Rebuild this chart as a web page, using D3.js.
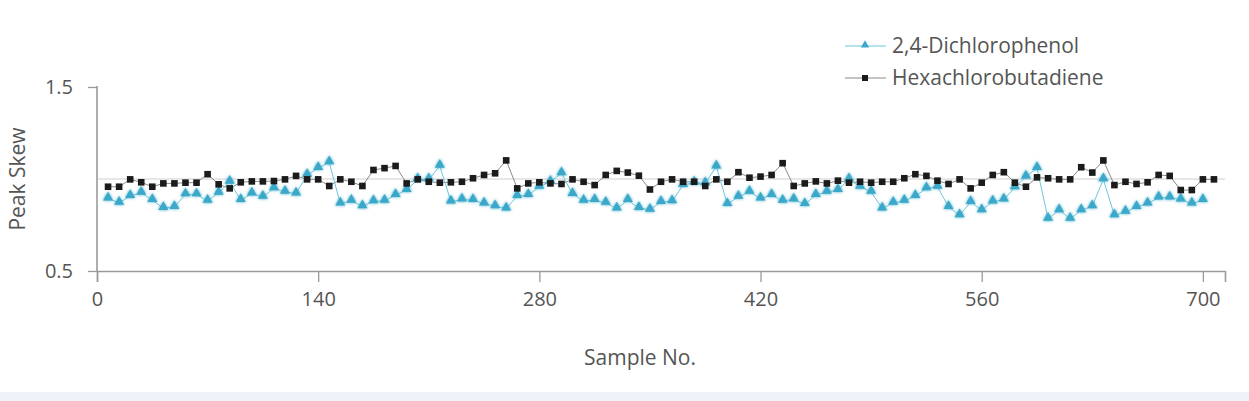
<!DOCTYPE html>
<html><head><meta charset="utf-8">
<script src="https://cdn.jsdelivr.net/npm/d3@7"></script>
<style>body{margin:0;background:#fff;}svg{display:block;font-family:"Open Sans", sans-serif;}</style>
</head><body>
<svg id="c" width="1249" height="401"></svg>
<script>
const seriesNames = ["2,4-Dichlorophenol", "Hexachlorobutadiene"];
const xTicks = [0, 140, 280, 420, 560, 700];
const yTicks = [0.5, 1.5];
const sampleStep = 7;
const dichlorophenol = [
0.894,0.870,0.907,0.925,0.885,0.842,0.848,0.916,0.916,0.881,0.925,0.985,0.885,0.921,0.903,0.949,
0.930,0.921,1.022,1.059,1.090,0.866,0.881,0.852,0.879,0.881,0.912,0.940,0.998,0.998,1.071,0.877,
0.888,0.885,0.866,0.852,0.839,0.907,0.912,0.958,0.985,1.031,0.918,0.881,0.885,0.870,0.839,0.885,0.842,
0.833,0.875,0.879,0.967,0.980,0.976,1.068,0.863,0.903,0.930,0.894,0.912,0.881,0.888,0.863,0.912,
0.930,0.940,0.998,0.958,0.930,0.839,0.870,0.881,0.907,0.949,0.958,0.848,0.802,0.875,0.830,0.877,
0.888,0.954,1.013,1.059,0.784,0.830,0.784,0.830,0.852,0.998,0.802,0.821,0.848,0.866,0.899,0.899,0.888,0.866,0.885];
const hexachlorobutadiene = [
0.958,0.958,0.998,0.982,0.958,0.976,0.976,0.980,0.980,1.026,0.971,0.949,0.982,0.987,0.987,0.989,
0.998,1.017,0.998,0.998,0.962,0.998,0.985,0.962,1.049,1.059,1.071,0.976,0.998,0.985,0.980,0.982,
0.985,1.004,1.022,1.031,1.101,0.949,0.976,0.982,0.976,0.973,0.998,0.985,0.967,1.022,1.044,1.035,1.018,
0.943,0.985,0.998,0.985,0.985,0.962,0.998,0.985,1.037,1.007,1.013,1.022,1.086,0.962,0.976,0.987,
0.976,0.991,0.980,0.985,0.980,0.985,0.985,1.004,1.026,1.017,0.991,0.973,0.998,0.949,0.980,1.022,
1.037,0.980,0.958,1.009,1.004,0.998,0.998,1.064,1.035,1.101,0.967,0.985,0.973,0.982,1.022,1.017,0.940,0.940,0.998,0.998];

const svg = d3.select("#c");
const x = d3.scaleLinear().domain([0, 714]).range([97, 1225]);
const y = d3.scaleLinear().domain([0.5, 1.5]).range([271, 87]);
const blue = "#3aa8c9", dark = "#1b1b1b", axisCol = "#9a9a9a", textCol = "#555";
const fs = 21, tfs = 20;

svg.append("rect").attr("x",0).attr("y",392).attr("width",1249).attr("height",9).attr("fill","#eef3f9");

const defs = svg.append("defs");
const f = defs.append("filter").attr("id","glow").attr("x","-50%").attr("y","-50%").attr("width","200%").attr("height","200%");
f.append("feGaussianBlur").attr("in","SourceGraphic").attr("stdDeviation",1.6).attr("result","b");
const m = f.append("feMerge"); m.append("feMergeNode").attr("in","b"); m.append("feMergeNode").attr("in","SourceGraphic");

// reference line at 1.0
svg.append("line").attr("x1",x(0)).attr("x2",x(714)).attr("y1",y(1)).attr("y2",y(1)).attr("stroke","#cfcfcf").attr("stroke-width",1.2);

// axes
const xa = svg.append("g").attr("transform",`translate(0,${y(0.5)})`)
  .call(d3.axisBottom(x).tickValues(xTicks).tickSize(11).tickPadding(10).tickFormat(d3.format("d")));
const ya = svg.append("g").attr("transform",`translate(${x(0)},0)`)
  .call(d3.axisLeft(y).tickValues(yTicks).tickSize(9).tickPadding(15).tickFormat(d3.format(".1f")));
[xa, ya].forEach(a => {
  a.select(".domain").attr("stroke",axisCol).attr("stroke-width",1.6);
  a.selectAll(".tick line").attr("stroke",axisCol).attr("stroke-width",1.3);
  a.selectAll(".tick text").attr("fill",textCol).attr("font-size",tfs).attr("font-family","'Open Sans', sans-serif");
});
ya.select(".domain").attr("d",`M-0,${y(1.5)-1}V${y(0.5)}`);

svg.append("text").attr("x",640).attr("y",365).attr("text-anchor","middle").attr("fill",textCol).attr("font-size",fs).text("Sample No.");
svg.append("text").attr("transform",`translate(25,${y(1)}) rotate(-90)`).attr("text-anchor","middle").attr("fill",textCol).attr("font-size",fs).text("Peak Skew");

const blueData = dichlorophenol.map((v,i)=>({s:(i+1)*sampleStep, v}));
const darkData = hexachlorobutadiene.map((v,i)=>({s:(i+1)*sampleStep, v}));
const line = d3.line().x(d=>x(d.s)).y(d=>y(d.v));

svg.append("path").datum(darkData).attr("d",line).attr("fill","none").attr("stroke","#8a8a8a").attr("stroke-width",1);
svg.append("path").datum(blueData).attr("d",line).attr("fill","none").attr("stroke","#6cc6e0").attr("stroke-width",1);

const tri = d3.symbol().type(d3.symbolTriangle).size(44);
svg.append("g").attr("filter","url(#glow)").selectAll("path").data(blueData).join("path")
  .attr("d",tri).attr("transform",d=>`translate(${x(d.s)},${y(d.v)-1})`).attr("fill",blue);
svg.append("g").selectAll("rect").data(darkData).join("rect")
  .attr("x",d=>x(d.s)-3.3).attr("y",d=>y(d.v)-3.3).attr("width",6.6).attr("height",6.6).attr("fill",dark);

// legend
const lg = svg.append("g");
const rows = [{name:seriesNames[0], col:"#6cc6e0", mk:"tri", yy:46},{name:seriesNames[1], col:"#8a8a8a", mk:"sq", yy:78}];
rows.forEach(r=>{
  lg.append("line").attr("x1",845).attr("x2",886).attr("y1",r.yy).attr("y2",r.yy).attr("stroke",r.col).attr("stroke-width",1.2);
  if(r.mk==="tri") lg.append("path").attr("d",d3.symbol().type(d3.symbolTriangle).size(30)()).attr("transform",`translate(865,${r.yy-1})`).attr("fill",blue);
  else lg.append("rect").attr("x",862).attr("y",r.yy-3).attr("width",6).attr("height",6).attr("fill",dark);
  lg.append("text").attr("x",892).attr("y",r.yy+7).attr("fill",textCol).attr("font-size",fs).text(r.name);
});
</script>
</body></html>
